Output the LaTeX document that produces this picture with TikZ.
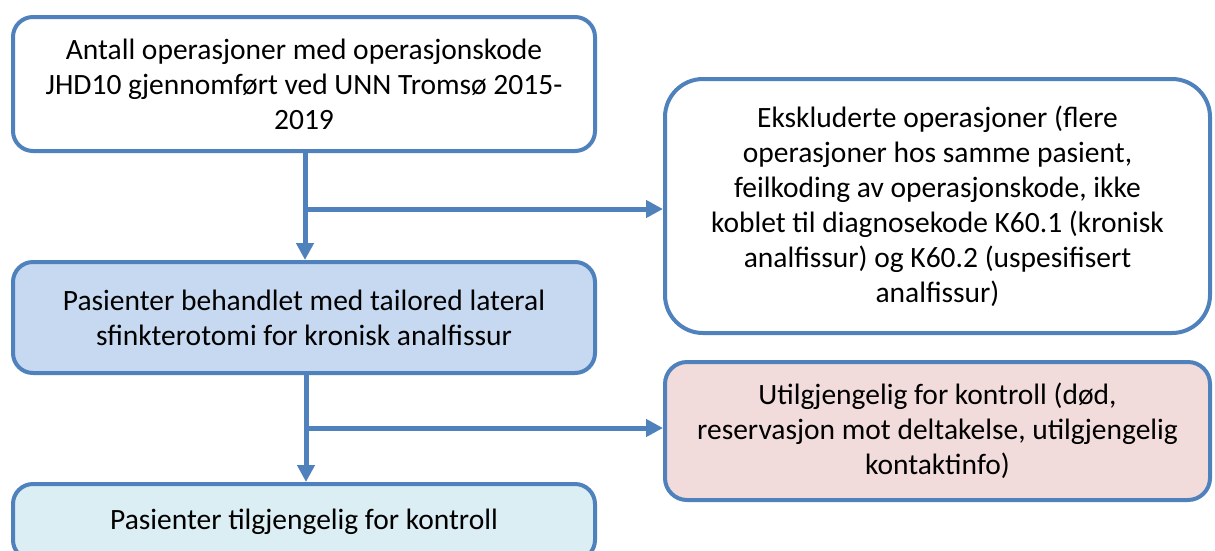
\documentclass[tikz,border=0pt]{standalone}
\usepackage{fontspec}
\setmainfont{Carlito}
\usetikzlibrary{arrows.meta}
\definecolor{officeblue}{HTML}{4F81BD}
\definecolor{fillmid}{HTML}{C6D9F1}
\definecolor{fillcyan}{HTML}{DBEEF4}
\definecolor{fillpink}{HTML}{F2DCDB}
\tikzset{
  boxbase/.style={draw=officeblue, line width=4pt, rectangle, align=center,
    font=\fontsize{29.5}{35}\selectfont, inner sep=0pt, text=black},
  conn/.style={draw=officeblue, line width=5pt, -{Triangle[length=17pt,width=17pt]}},
  plainconn/.style={draw=officeblue, line width=5pt}
}
\begin{document}
\begin{tikzpicture}[x=1pt,y=-1pt]
\clip (0,0) rectangle (1215,550);
\fill[white] (0,0) rectangle (1215,550);
\node[boxbase, fill=white, rounded corners=20pt, minimum width=582pt, minimum height=134pt] (b1) at (304,84)
  {Antall operasjoner med operasjonskode\\JHD10 gjennomført ved UNN Tromsø 2015-\\2019};
\node[boxbase, fill=white, rounded corners=38pt, minimum width=545pt, minimum height=254pt] (b2) at (937.5,206)
  {Ekskluderte operasjoner (flere\\operasjoner hos samme pasient,\\feilkoding av operasjonskode, ikke\\koblet til diagnosekode K60.1 (kronisk\\analfissur) og K60.2 (uspesifisert\\analfissur)};
\node[boxbase, fill=fillmid, rounded corners=20pt, minimum width=582pt, minimum height=111pt] (b3) at (304,317.5)
  {Pasienter behandlet med tailored lateral\\sfinkterotomi for kronisk analfissur};
\node[boxbase, fill=fillpink, rounded corners=22pt, minimum width=545pt, minimum height=138pt] (b4) at (937.5,431)
  {Utilgjengelig for kontroll (død,\\reservasjon mot deltakelse, utilgjengelig\\kontaktinfo)};
\node[boxbase, fill=fillcyan, rounded corners=20pt, minimum width=582pt, minimum height=76pt] (b5) at (304,522)
  {Pasienter tilgjengelig for kontroll};
\coordinate (c1) at (305,209);
\coordinate (c2) at (306,428);
\draw[conn] (b1.south -| c1) -- (b3.north -| c1);
\draw[conn] (c1) -- (c1 -| b2.west);
\draw[conn] (b3.south -| c2) -- (b5.north -| c2);
\draw[conn] (c2) -- (c2 -| b4.west);
\end{tikzpicture}
\end{document}
